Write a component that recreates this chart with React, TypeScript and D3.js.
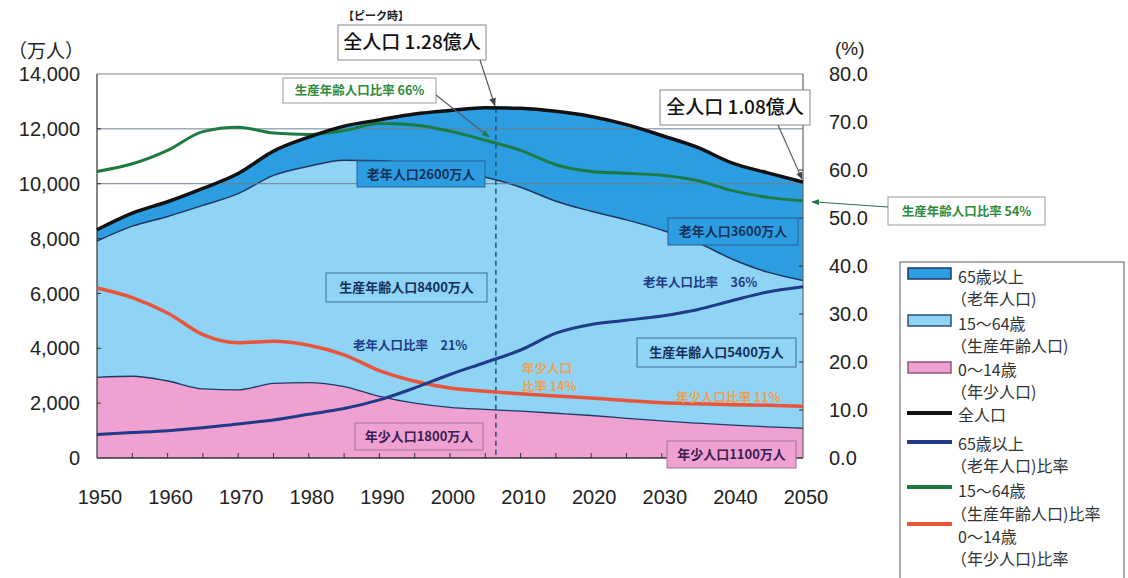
import React from 'react';
import * as d3 from 'd3';

// ---- data (万人 / %) ----
const years = [1950, 1955, 1960, 1965, 1970, 1975, 1980, 1985, 1990, 1995, 2000, 2005, 2010, 2015, 2020, 2025, 2030, 2035, 2040, 2045, 2050];
const young = [2943, 2980, 2807, 2517, 2482, 2722, 2751, 2603, 2249, 2001, 1847, 1772, 1707, 1631, 1550, 1448, 1351, 1270, 1198, 1136, 1084];
const working = [4966, 5473, 6000, 6693, 7157, 7581, 7884, 8251, 8590, 8717, 8622, 8460, 8167, 7730, 7445, 7233, 6958, 6590, 6050, 5640, 5389];
const elderly = [411, 475, 535, 618, 733, 887, 1065, 1247, 1489, 1826, 2204, 2540, 2873, 3277, 3456, 3473, 3449, 3470, 3500, 3620, 3586];
const elderlyRatio = [4.9, 5.3, 5.7, 6.3, 7.1, 7.9, 9.1, 10.3, 12.1, 14.6, 17.4, 19.9, 22.5, 26.0, 27.8, 28.7, 29.6, 30.9, 32.8, 34.6, 35.7];
const workingRatio = [59.7, 61.3, 64.1, 68.0, 68.9, 67.7, 67.4, 68.2, 69.7, 69.4, 68.1, 66.2, 64.1, 61.1, 59.7, 59.3, 58.9, 57.8, 55.7, 54.3, 53.6];
const youngRatio = [35.4, 33.4, 30.2, 25.7, 24.0, 24.3, 23.5, 21.5, 18.2, 16.0, 14.6, 13.9, 13.4, 12.9, 12.5, 12.0, 11.5, 11.3, 11.1, 11.0, 10.8];
const leftTicks = [0, 2000, 4000, 6000, 8000, 10000, 12000, 14000];
const rightTicks = [0, 10, 20, 30, 40, 50, 60, 70, 80];
const xTicks = [1950, 1960, 1970, 1980, 1990, 2000, 2010, 2020, 2030, 2040, 2050];
const gridValues = [10000, 12000];
const peakYear = 2006.5;
const peakTotal = 12774;

const W = 1128, H = 578;
const PL = 97, PR = 803, PT = 74, PB = 458;

const C_OLD = '#2c9de0';
const C_WORK = '#8fd4f5';
const C_YOUNG = '#efa2d2';
const C_OLDR = '#1f3a86';
const C_WORKR = '#1d7a43';
const C_YOUNGR = '#e8553a';
const NUM = '"Liberation Sans", Arial, sans-serif';
const JP = '"Noto Sans CJK JP", "Noto Sans", sans-serif';

function Box({ x, y, w, h, fill, stroke, text, color, size = 13, weight = 700 }: any) {
  return (
    <g>
      <rect x={x} y={y} width={w} height={h} fill={fill} stroke={stroke} strokeWidth={1} />
      <text x={x + w / 2} y={y + h / 2} dy="0.36em" textAnchor="middle" fontFamily={JP} fontSize={size} fontWeight={weight} fill={color}>{text}</text>
    </g>
  );
}

export default function App() {
  const x = d3.scaleLinear().domain([1950, 2050]).range([PL, PR]);
  const y = d3.scaleLinear().domain([0, 14000]).range([PB, PT]);
  const yR = d3.scaleLinear().domain([0, 80]).range([PB, PT]);

  const rows = years.map((yr, i) => ({ year: yr, young: young[i], working: working[i], elderly: elderly[i] }));
  const series = d3.stack<any>().keys(['young', 'working', 'elderly'])(rows as any);
  const area = d3.area<any>().x((d) => x(d.data.year)).y0((d) => y(d[0])).y1((d) => y(d[1])).curve(d3.curveMonotoneX);
  const topLine = d3.line<any>().x((d) => x(d.data.year)).y((d) => y(d[1])).curve(d3.curveMonotoneX);
  const ratioLine = d3.line<number>().x((_, i) => x(years[i])).y((d) => yR(d)).curve(d3.curveMonotoneX);
  const fills = [C_YOUNG, C_WORK, C_OLD];

  const minor = d3.range(1955, 2050, 5);

  const legendTexts: [string, number][] = [
    ['65歳以上', 277], ['（老年人口)', 299],
    ['15〜64歳', 324], ['（生産年齢人口)', 346],
    ['0〜14歳', 370], ['（年少人口)', 392],
    ['全人口', 415],
    ['65歳以上', 444], ['（老年人口)比率', 466],
    ['15〜64歳', 491], ['（生産年齢人口)比率', 514],
    ['0〜14歳', 537], ['（年少人口)比率', 559],
  ];

  return (
    <svg width={W} height={H} style={{ position: 'absolute', left: 0, top: 0, background: '#fff' }}>
      <defs>
        <marker id="arrDark" viewBox="0 0 10 10" refX="9" refY="5" markerWidth="7" markerHeight="7" orient="auto-start-reverse">
          <path d="M0,1 L10,5 L0,9 z" fill="#444" />
        </marker>
        <marker id="arrGreen" viewBox="0 0 10 10" refX="9" refY="5" markerWidth="7" markerHeight="7" orient="auto-start-reverse">
          <path d="M0,1 L10,5 L0,9 z" fill={C_WORKR} />
        </marker>
      </defs>

      {/* areas */}
      {series.map((s, i) => (
        <path key={i} d={area(s as any) || ''} fill={fills[i]} />
      ))}
      {/* boundaries */}
      <path d={topLine(series[0] as any) || ''} fill="none" stroke="#1e3a64" strokeWidth={1.3} />
      <path d={topLine(series[1] as any) || ''} fill="none" stroke="#1a3560" strokeWidth={1.5} />

      {/* grid */}
      {gridValues.map((v) => (
        <line key={v} x1={PL} x2={PR} y1={y(v)} y2={y(v)} stroke="#6f7f8f" strokeWidth={1} />
      ))}

      {/* frame */}
      <line x1={PL} x2={PR} y1={PT} y2={PT} stroke="#888" strokeWidth={1} />
      <line x1={PR} x2={PR} y1={PT} y2={PB} stroke="#666" strokeWidth={1.2} />
      <line x1={PL} x2={PL} y1={PT} y2={PB} stroke="#333" strokeWidth={1.2} />
      <line x1={PL} x2={PR} y1={PB} y2={PB} stroke="#333" strokeWidth={1.5} />
      {minor.map((yr) => (
        <line key={yr} x1={x(yr)} x2={x(yr)} y1={PB} y2={PB - 5} stroke="#333" strokeWidth={1} />
      ))}
      {leftTicks.slice(1, -1).map((v) => (
        <line key={v} x1={PL} x2={PL + 4} y1={y(v)} y2={y(v)} stroke="#333" strokeWidth={1} />
      ))}
      {rightTicks.slice(1, -1).map((v) => (
        <line key={v} x1={PR} x2={PR - 4} y1={yR(v)} y2={yR(v)} stroke="#333" strokeWidth={1} />
      ))}

      {/* dashed peak line */}
      <line x1={x(peakYear)} x2={x(peakYear)} y1={y(peakTotal)} y2={PB} stroke="#2a4a7a" strokeWidth={1.5} strokeDasharray="5,4" />

      {/* ratio lines */}
      <path d={ratioLine(workingRatio) || ''} fill="none" stroke={C_WORKR} strokeWidth={3} />
      <path d={ratioLine(youngRatio) || ''} fill="none" stroke={C_YOUNGR} strokeWidth={3.5} />
      <path d={ratioLine(elderlyRatio) || ''} fill="none" stroke={C_OLDR} strokeWidth={3} />
      {/* total line */}
      <path d={topLine(series[2] as any) || ''} fill="none" stroke="#111" strokeWidth={3.5} />

      {/* axis labels */}
      {leftTicks.map((v) => (
        <text key={v} x={80} y={y(v)} dy="0.36em" textAnchor="end" fontFamily={NUM} fontSize={20} fill="#222">{d3.format(',')(v)}</text>
      ))}
      {rightTicks.map((v) => (
        <text key={v} x={829} y={yR(v)} dy="0.36em" textAnchor="start" fontFamily={NUM} fontSize={20} fill="#222">{v.toFixed(1)}</text>
      ))}
      {xTicks.map((v) => (
        <text key={v} x={x(v) + 3} y={504} textAnchor="middle" fontFamily={NUM} fontSize={20} fill="#222">{v}</text>
      ))}
      <text x={8} y={58} fontFamily={JP} fontSize={19} fill="#222">（万人）</text>
      <text x={835} y={55} fontFamily={NUM} fontSize={19} fill="#222">(%)</text>

      {/* top annotations */}
      <text x={343} y={20} fontFamily={JP} fontSize={11} fontWeight={700} fill="#222">【ピーク時】</text>
      <Box x={338} y={25} w={148} h={35} fill="#fff" stroke="#888" text="全人口 1.28億人" color="#111" size={19} weight={500} />
      <line x1={480} y1={60} x2={x(peakYear) - 1} y2={y(peakTotal) - 2} stroke="#555" strokeWidth={1.2} markerEnd="url(#arrDark)" />

      <Box x={283} y={78} w={153} h={25} fill="#fff" stroke="#999" text="生産年齢人口比率 66%" color="#2f8a3a" size={12.5} />
      <line x1={436} y1={95} x2={x(2005.5)} y2={yR(66.5) - 2} stroke="#556" strokeWidth={1.1} markerEnd="url(#arrGreen)" />

      <Box x={660} y={90} w={150} h={35} fill="#fff" stroke="#888" text="全人口 1.08億人" color="#111" size={19} weight={500} />
      <line x1={778} y1={125} x2={x(2050) - 1} y2={y(10059) - 3} stroke="#555" strokeWidth={1.1} markerEnd="url(#arrDark)" />

      <Box x={888} y={197} w={157} h={28} fill="#fff" stroke="#999" text="生産年齢人口比率 54%" color="#2f8a3a" size={12.5} />
      <line x1={888} y1={207} x2={x(2050) + 9} y2={yR(53.6) + 1} stroke="#2f6a4a" strokeWidth={1.1} markerEnd="url(#arrGreen)" />

      {/* in-plot labels */}
      <Box x={357} y={161} w={128} h={26} fill={C_OLD} stroke="#2a5f8f" text="老年人口2600万人" color="#14305a" size={13} />
      <Box x={668} y={218} w={130} h={27} fill={C_OLD} stroke="#2a5f8f" text="老年人口3600万人" color="#14305a" size={13} />
      <Box x={326} y={273} w={161} h={29} fill={C_WORK} stroke="#3f6f8f" text="生産年齢人口8400万人" color="#14305a" size={13} />
      <Box x={637} y={338} w={159} h={29} fill={C_WORK} stroke="#3f6f8f" text="生産年齢人口5400万人" color="#14305a" size={13} />
      <Box x={355} y={423} w={128} h={27} fill={C_YOUNG} stroke="#a07098" text="年少人口1800万人" color="#3a2050" size={13} />
      <Box x={667} y={441} w={129} h={27} fill={C_YOUNG} stroke="#a07098" text="年少人口1100万人" color="#3a2050" size={13} />

      <text x={643} y={287} fontFamily={JP} fontSize={12.5} fontWeight={700} fill="#1f3a86">老年人口比率　36%</text>
      <text x={353} y={350} fontFamily={JP} fontSize={12.5} fontWeight={700} fill="#1f3a86">老年人口比率　21%</text>
      <text x={522} y={373} fontFamily={JP} fontSize={12.5} fontWeight={700} fill="#f0a050">年少人口</text>
      <text x={522} y={391} fontFamily={JP} fontSize={12.5} fontWeight={700} fill="#f0a050">比率 14%</text>
      <text x={676} y={402} fontFamily={JP} fontSize={12.5} fontWeight={700} fill="#f0a050">年少人口比率 11%</text>

      {/* legend */}
      <rect x={900} y={262} width={224} height={318} fill="#fff" stroke="#777" strokeWidth={1.2} />
      <rect x={908} y={268} width={43} height={11} fill={C_OLD} stroke="#1f3a64" strokeWidth={1.5} />
      <rect x={908} y={315} width={43} height={11} fill={C_WORK} stroke="#2f4f6f" strokeWidth={1.5} />
      <rect x={908} y={362} width={43} height={11} fill={C_YOUNG} stroke="#8a5a80" strokeWidth={1.5} />
      <line x1={907} x2={952} y1={413} y2={413} stroke="#111" strokeWidth={4} />
      <line x1={907} x2={952} y1={442} y2={442} stroke={C_OLDR} strokeWidth={4} />
      <line x1={907} x2={952} y1={487} y2={487} stroke={C_WORKR} strokeWidth={4} />
      <line x1={907} x2={952} y1={524} y2={524} stroke={C_YOUNGR} strokeWidth={4} />
      {legendTexts.map(([t, yy], i) => (
        <text key={i} x={t.startsWith('（') ? 951 : 958} y={yy} dy="0.36em" fontFamily={JP} fontSize={16} fill="#333">{t}</text>
      ))}
    </svg>
  );
}
